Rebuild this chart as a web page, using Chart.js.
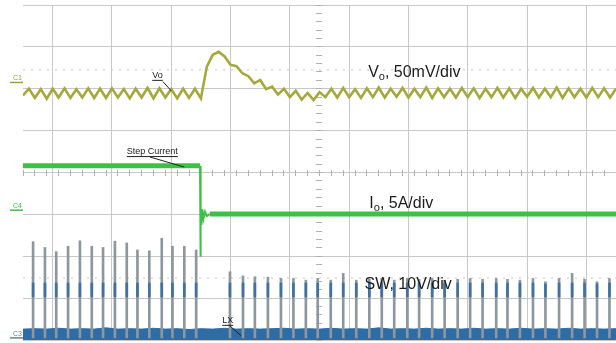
<!DOCTYPE html>
<html>
<head>
<meta charset="utf-8">
<script src="https://cdn.jsdelivr.net/npm/chart.js@4.4.1/dist/chart.umd.min.js"></script>
<style>
  html, body { margin: 0; padding: 0; background: #fff; }
  #wrap { width: 616px; height: 343px; position: relative; }
</style>
</head>
<body>
<div id="wrap"><canvas id="scope"></canvas></div>
<script>
// everything is in screen divisions: time 0..10 across, 0..8 up from the bottom

// Vo (C1), one sample every 0.1 div
const voStep = 0.1;
const voValues = [
  5.84, 6.00, 5.78, 5.99, 5.76, 6.00, 5.79, 6.01, 5.78, 5.99,
  5.79, 6.01, 5.78, 6.00, 5.78, 6.01, 5.79, 5.99, 5.77, 6.00,
  5.79, 6.02, 5.77, 6.01, 5.79, 5.99, 5.77, 6.00, 5.78, 6.00,
  5.77, 6.53, 6.81, 6.88, 6.77, 6.57, 6.54, 6.37, 6.30, 6.13,
  6.21, 5.99, 6.05, 5.86, 6.00, 5.80, 5.95, 5.74, 5.90, 5.73,
  5.92, 5.80, 6.00, 5.79, 6.02, 5.80, 5.99, 5.78, 6.01, 5.80,
  6.03, 5.79, 6.00, 5.81, 6.02, 5.79, 6.00, 5.80, 6.03, 5.78,
  6.01, 5.80, 6.00, 5.79, 6.02, 5.80, 6.01, 5.78, 6.00, 5.80,
  6.02, 5.79, 6.01, 5.78, 6.00, 5.81, 6.02, 5.79, 6.00, 5.80,
  6.03, 5.78, 6.01, 5.80, 6.00, 5.79, 6.02, 5.80, 6.01, 5.79,
  6.00
];

// Io (C4) load step
const ioTimes  = [0, 2.985, 2.99, 3.0, 3.01, 3.025, 3.045, 3.07, 3.1, 3.15, 10];
const ioValues = [4.16, 4.16, 1.99, 3.2, 2.75, 3.12, 2.9, 3.06, 2.96, 3.01, 3.01];

// SW (C3) floor band, one sample every 0.2 div
const swBandStep = 0.2;
const swBandValues = [
  0.26, 0.27, 0.26, 0.28, 0.26, 0.27, 0.26, 0.29, 0.26, 0.27,
  0.26, 0.28, 0.26, 0.27, 0.25, 0.27, 0.26, 0.28, 0.26, 0.27,
  0.26, 0.27, 0.28, 0.26, 0.27, 0.26, 0.28, 0.26, 0.27, 0.26,
  0.29, 0.26, 0.27, 0.26, 0.28, 0.26, 0.27, 0.26, 0.28, 0.26,
  0.27, 0.26, 0.28, 0.26, 0.27, 0.26, 0.28, 0.26, 0.27, 0.26,
  0.27
];

// SW switching pulses
const swTimes = [
  0.17, 0.37, 0.56, 0.76, 0.96, 1.16, 1.35, 1.55, 1.75, 1.93,
  2.13, 2.34, 2.52, 2.72, 2.92,
  3.49, 3.71, 3.91, 4.13, 4.35, 4.56, 4.77, 4.97, 5.19, 5.40,
  5.62, 5.84, 6.05, 6.26, 6.48, 6.68, 6.90, 7.11, 7.33, 7.54,
  7.75, 7.98, 8.17, 8.38, 8.60, 8.81, 9.04, 9.26, 9.47, 9.68,
  9.89
];
const swTips = [
  2.35, 2.21, 2.11, 2.24, 2.37, 2.24, 2.21, 2.36, 2.32, 2.15,
  2.13, 2.43, 2.24, 2.24, 2.15,
  1.63, 1.53, 1.51, 1.50, 1.47, 1.47, 1.43, 1.47, 1.43, 1.59,
  1.43, 1.45, 1.47, 1.43, 1.47, 1.45, 1.47, 1.43, 1.45, 1.47,
  1.45, 1.47, 1.45, 1.43, 1.47, 1.39, 1.47, 1.59, 1.45, 1.39,
  1.47
];
const swBlueBand = [1.03, 1.36];

// dotted marker rows
const markerRows = [6.45, 1.48];

const FONT = "'Liberation Sans', Arial, sans-serif";
const VO_COLOR = "#a5a83b";
const IO_COLOR = "#3ebf47";
const SW_COLOR = "#2e6ca5";
const SW_MARK = "#41729f";
const SPIKE_COLOR = "#8d979f";
const GRID_COLOR = "#c8c8c8";

const voData = voValues.map((v, i) => ({ x: i * voStep, y: v }));
const ioData = ioTimes.map((t, i) => ({ x: t, y: ioValues[i] }));
const bandData = swBandValues.map((v, i) => ({ x: i * swBandStep, y: v }));
const spikeData = swTimes.map((t, i) => ({ x: t, y: [0.05, swTips[i]] }));
const blueData = swTimes.map((t, i) => ({
  x: t, y: [swBlueBand[0], Math.min(swBlueBand[1], swTips[i] - 0.05)]
}));
const rowSets = markerRows.map(r => ({
  type: "line",
  data: [{ x: 0, y: r }, { x: 10, y: r }],
  borderColor: "#c4c4c4",
  borderWidth: 1,
  borderDash: [2, 6],
  pointRadius: 0
}));

// text on the screen, placed in division units
const bigLabels = [
  { x: 5.82, y: 6.27, main: "V", sub: "o", rest: ", 50mV/div" },
  { x: 5.84, y: 3.15, main: "I", sub: "o", rest: ", 5A/div" },
  { x: 5.76, y: 1.22, main: "SW, 10V/div", sub: "", rest: "" }
];
const smallLabels = [
  { x: 2.18, y: 6.26, text: "Vo", line: [2.36, 6.17, 2.50, 5.95] },
  { x: 1.75, y: 4.44, text: "Step Current", line: [2.14, 4.37, 2.72, 4.13] },
  { x: 3.36, y: 0.41, text: "LX", line: [3.47, 0.36, 3.68, 0.10] }
];
const channelTags = [
  { y: 6.15, text: "C1", color: "#9aa03a" },
  { y: 3.1, text: "C4", color: "#3ebf47" },
  { y: 0.05, text: "C3", color: "#6a7f95" }
];

const scopeText = {
  id: "scopeText",
  afterDatasetsDraw(chart) {
    const { ctx, scales: { x, y } } = chart;
    ctx.save();
    ctx.textBaseline = "alphabetic";

    bigLabels.forEach(l => {
      let px = x.getPixelForValue(l.x);
      const py = y.getPixelForValue(l.y);
      ctx.fillStyle = "#1c1c1c";
      ctx.font = "16px " + FONT;
      ctx.fillText(l.main, px, py);
      px += ctx.measureText(l.main).width;
      if (l.sub) {
        ctx.font = "11px " + FONT;
        ctx.fillText(l.sub, px, py + 3);
        px += ctx.measureText(l.sub).width;
      }
      ctx.font = "16px " + FONT;
      ctx.fillText(l.rest, px, py);
    });

    ctx.font = "9px " + FONT;
    ctx.strokeStyle = "#222";
    ctx.lineWidth = 1;
    smallLabels.forEach(l => {
      const px = x.getPixelForValue(l.x);
      const py = y.getPixelForValue(l.y);
      ctx.fillStyle = "#222";
      ctx.fillText(l.text, px, py);
      const w = ctx.measureText(l.text).width;
      ctx.beginPath();
      ctx.moveTo(px, py + 2.5);
      ctx.lineTo(px + w, py + 2.5);
      ctx.moveTo(x.getPixelForValue(l.line[0]), y.getPixelForValue(l.line[1]));
      ctx.lineTo(x.getPixelForValue(l.line[2]), y.getPixelForValue(l.line[3]));
      ctx.stroke();
    });

    ctx.font = "7px " + FONT;
    channelTags.forEach(c => {
      const py = y.getPixelForValue(c.y);
      const left = x.getPixelForValue(0);
      ctx.fillStyle = c.color;
      ctx.fillText(c.text, left - 10, py - 2);
      ctx.strokeStyle = c.color;
      ctx.lineWidth = 1.5;
      ctx.beginPath();
      ctx.moveTo(left - 13, py);
      ctx.lineTo(left, py);
      ctx.stroke();
    });
    ctx.restore();
  }
};

new Chart(document.getElementById("scope"), {
  type: "line",
  data: {
    datasets: [
      {
        label: "Vo",
        data: voData,
        borderColor: VO_COLOR,
        borderWidth: 2.6,
        pointRadius: 0,
        tension: 0
      },
      {
        label: "Io",
        data: ioData,
        borderColor: IO_COLOR,
        borderWidth: 5,
        pointRadius: 0,
        tension: 0,
        segment: {
          borderWidth: c => (c.p1.parsed.x - c.p0.parsed.x < 0.2 ? 2 : 5)
        }
      },
      {
        type: "bar",
        label: "SW mark",
        data: blueData,
        backgroundColor: SW_MARK,
        barThickness: 2,
        grouped: false
      },
      {
        type: "bar",
        label: "SW",
        data: spikeData,
        backgroundColor: SPIKE_COLOR,
        barThickness: 2,
        grouped: false
      },
      {
        label: "SW floor",
        data: bandData,
        borderColor: SW_COLOR,
        backgroundColor: SW_COLOR,
        borderWidth: 1,
        fill: "origin",
        pointRadius: 0,
        tension: 0
      },
      ...rowSets
    ]
  },
  options: {
    animation: false,
    responsive: true,
    maintainAspectRatio: false,
    layout: { padding: { left: 23, right: 0, top: 5, bottom: 3 } },
    plugins: { legend: { display: false }, tooltip: { enabled: false } },
    scales: {
      x: {
        type: "linear", min: 0, max: 10, offset: false,
        ticks: { display: false, stepSize: 1 },
        grid: { color: GRID_COLOR, drawTicks: false },
        border: { display: false }
      },
      y: {
        type: "linear", min: 0, max: 8,
        ticks: { display: false, stepSize: 1 },
        grid: { color: GRID_COLOR, drawTicks: false },
        border: { display: false }
      },
      xMinor: {
        type: "linear", axis: "x", position: { y: 4.07 }, min: 0, max: 10,
        ticks: { display: false, stepSize: 0.2 },
        grid: { color: "#b0b0b0", drawOnChartArea: false, tickLength: 6 },
        border: { display: false }
      },
      yMinor: {
        type: "linear", axis: "y", position: { x: 5.05 }, min: 0, max: 8,
        ticks: { display: false, stepSize: 0.2 },
        grid: { color: "#b0b0b0", drawOnChartArea: false, tickLength: 6 },
        border: { display: false }
      }
    }
  },
  plugins: [scopeText]
});
</script>
</body>
</html>
